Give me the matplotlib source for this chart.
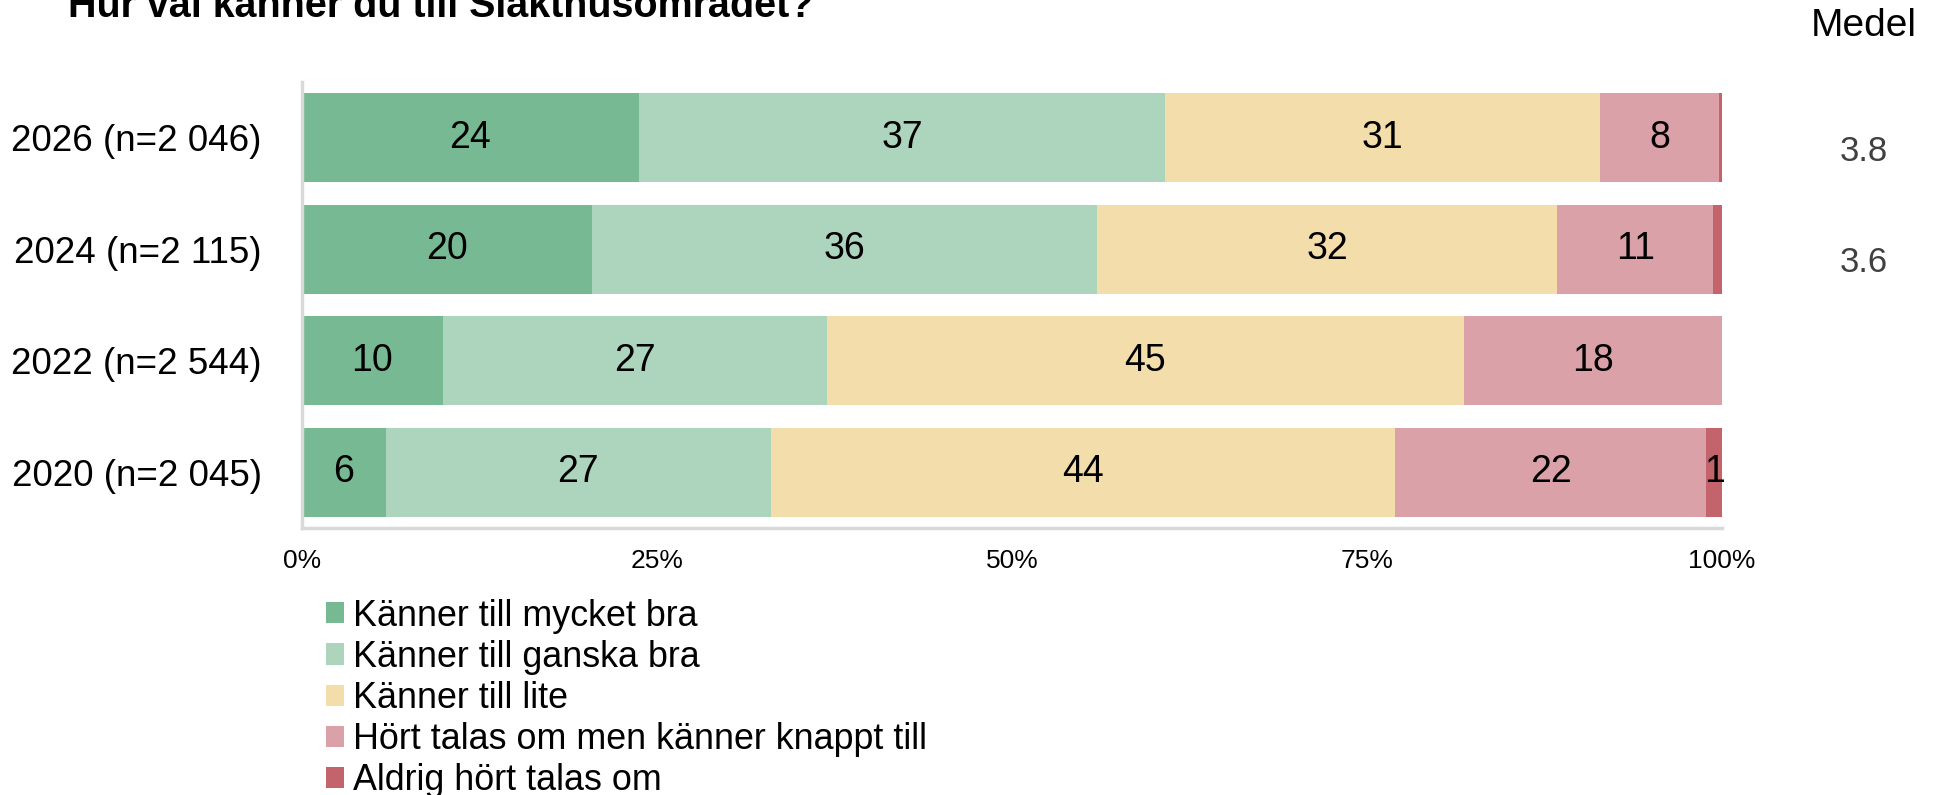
import matplotlib
matplotlib.use("Agg")
import matplotlib.pyplot as plt
import matplotlib.transforms as mtransforms
from matplotlib import font_manager
from matplotlib.font_manager import FontProperties
import numpy as np

# ---- data ----
categories = ["2026 (n=2 046)", "2024 (n=2 115)", "2022 (n=2 544)", "2020 (n=2 045)"]
series_names = ["Känner till mycket bra", "Känner till ganska bra", "Känner till lite",
                "Hört talas om men känner knappt till", "Aldrig hört talas om"]
mycket_bra = [23.7, 20.4, 9.9, 5.9]
ganska_bra = [37.1, 35.6, 27.1, 27.1]
lite = [30.6, 32.4, 44.8, 44.0]
knappt = [8.4, 11.0, 18.2, 21.9]
aldrig = [0.2, 0.6, 0.0, 1.1]
medel = ["3.8", "3.6", "", ""]
xticks = [0, 25, 50, 75, 100]
xticklabels = ["0%", "25%", "50%", "75%", "100%"]
title = "Hur väl känner du till Slakthusområdet?"

colors = ["#76B992", "#ADD4BC", "#F3DDAB", "#DBA1A8", "#C3646D"]

# fonts
avail = {f.name for f in font_manager.fontManager.ttflist}
base = "Liberation Sans" if "Liberation Sans" in avail else "DejaVu Sans"
plt.rcParams["font.family"] = [base, "DejaVu Sans"]

W, H = 1936, 795
fig = plt.figure(figsize=(W / 100, H / 100), dpi=100)
renderer = fig.canvas.get_renderer()


def fit_width(prop, text, target_w):
    t = fig.text(0, 0, text, fontproperties=prop)
    wpx = t.get_window_extent(renderer).width
    t.remove()
    p = prop.copy()
    p.set_size(prop.get_size() * target_w / wpx)
    return p


tprop = fit_width(FontProperties(family=[base, "DejaVu Sans"], weight="bold", size=28), title, 747)
lprop = FontProperties(family=[base, "DejaVu Sans"], size=25.8)

ax = fig.add_axes([302 / W, 1 - 528 / H, (1722 - 302) / W, (528 - 82) / H])

series = [mycket_bra, ganska_bra, lite, knappt, aldrig]
y = np.arange(len(categories))
left = np.zeros(len(categories))
for vals, name, col in zip(series, series_names, colors):
    vals = np.array(vals)
    ax.barh(y, vals, left=left, height=0.8, color=col, label=name, linewidth=0)
    for yi, (l, v) in enumerate(zip(left, vals)):
        if v >= 1:
            ax.text(l + v / 2, yi, f"{round(v):d}", ha="center", va="center",
                    fontsize=27, color="black")
    left = left + vals

ax.set_xlim(0, 100)
ax.set_ylim(3.5, -0.5)
ax.set_yticks(y)
ax.set_yticklabels(categories, fontsize=26.5)
ax.set_xticks(xticks)
ax.set_xticklabels(xticklabels, fontsize=19)
ax.tick_params(axis="y", length=0, pad=29)
ax.tick_params(axis="x", length=0, pad=15)
for s in ["top", "right"]:
    ax.spines[s].set_visible(False)
for s in ["left", "bottom"]:
    ax.spines[s].set_color("#D9D9D9")
    ax.spines[s].set_linewidth(2.5)

# Medel column
fig.text(1864 / W, 1 - 26 / H, "Medel", ha="center", va="center", fontsize=28, color="black")
trans = mtransforms.blended_transform_factory(fig.transFigure, ax.transData)
for yi, m in enumerate(medel):
    if m:
        ax.text(1864 / W, yi + 0.12, m, transform=trans, ha="center", va="center",
                fontsize=25, color="#404040")

# Title (clipped at top as in reference)
fig.text(68 / W, 1 - 16.7 / H, title, ha="left", va="baseline", fontproperties=tprop)

# Legend
fs_px = lprop.get_size() / 72 * 100
_, lp_h, _ = renderer.get_text_width_height_descent("lp", lprop, ismath=False)
pitch = 41.2
handles, labels = ax.get_legend_handles_labels()
leg = fig.legend(handles, labels, loc="upper left",
                 bbox_to_anchor=(326 / W, 1 - (616 - lp_h / 2) / H),
                 frameon=False, prop=lprop,
                 handlelength=18 / fs_px, handleheight=19 / fs_px, handletextpad=9 / fs_px,
                 labelspacing=(pitch - lp_h) / fs_px, borderpad=0, borderaxespad=0)

fig.savefig("out.png", dpi=100)
